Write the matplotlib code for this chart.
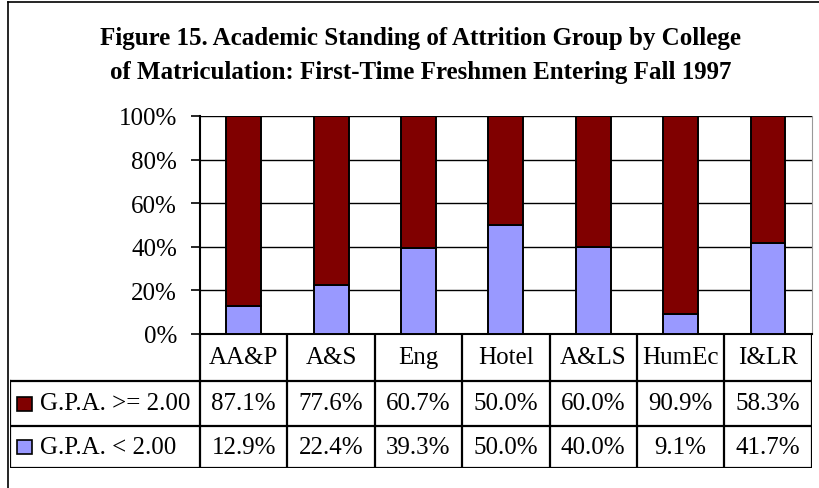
import numpy as np
import matplotlib
matplotlib.use('Agg')
import matplotlib.pyplot as plt
from matplotlib.patches import Rectangle
from matplotlib.lines import Line2D

colleges = ['AA&P', 'A&S', 'Eng', 'Hotel', 'A&LS', 'HumEc', 'I&LR']
gpa_hi = [87.1, 77.6, 60.7, 50.0, 60.0, 90.9, 58.3]
gpa_lo = [12.9, 22.4, 39.3, 50.0, 40.0, 9.1, 41.7]
series_names = ['G.P.A. >= 2.00', 'G.P.A. < 2.00']
yticks = [0, 20, 40, 60, 80, 100]

c_hi = '#800000'
c_lo = '#9999FF'
fs = 18

plt.rcParams['font.family'] = ['Liberation Serif', 'DejaVu Serif']

W, H = 819, 489
fig = plt.figure(figsize=(W / 100, H / 100), dpi=100)

# outer frame (only left and top visible in the original crop)
fig.add_artist(Line2D([8 / W, 8 / W], [0, 1 - 3 / H], color='black', lw=1.2))
fig.add_artist(Line2D([8 / W, 1], [1 - 3 / H, 1 - 3 / H], color='black', lw=1.2))

fig.text(421 / W, 1 - 38 / H,
         'Figure 15. Academic Standing of Attrition Group by College',
         ha='center', va='center', fontsize=18, fontweight='bold')
fig.text(421 / W, 1 - 72 / H,
         'of Matriculation: First-Time Freshmen Entering Fall 1997',
         ha='center', va='center', fontsize=18, fontweight='bold')

# main chart
x0, x1 = 200, 811.7
ytop, ybot = 117, 335
ax = fig.add_axes([x0 / W, 1 - ybot / H, (x1 - x0) / W, (ybot - ytop) / H])
x = np.arange(len(colleges))
ax.bar(x, gpa_lo, width=0.4, color=c_lo, edgecolor='black', lw=1.4, zorder=3)
ax.bar(x, gpa_hi, width=0.4, bottom=gpa_lo, color=c_hi, edgecolor='black',
       lw=1.4, zorder=3)
ax.set_xlim(-0.5, len(colleges) - 0.5)
ax.set_ylim(0, 100)
ax.set_yticks(yticks)
ax.set_yticklabels(['{}%'.format(v) for v in yticks], fontsize=fs)
ax.set_xticks([])
ax.grid(axis='y', color='black', lw=1)
ax.set_axisbelow(True)
ax.tick_params(axis='y', length=6.5, width=1.2, pad=10)
ax.spines['top'].set_visible(False)
ax.spines['right'].set_color('#999999')
ax.spines['left'].set_linewidth(1.5)
ax.spines['bottom'].set_linewidth(1.5)

# data table below
tx0 = 10
rows = [0, 47, 92, 134]
tax = fig.add_axes([tx0 / W, 1 - (ybot + rows[-1]) / H, (x1 - tx0) / W, rows[-1] / H])
colw = (x1 - x0) / len(colleges)
left = -0.5 - (x0 - tx0) / colw
tax.set_xlim(left, len(colleges) - 0.5)
tax.set_ylim(rows[-1], 0)
tax.axis('off')

lk = dict(color='black', lw=1.6, solid_capstyle='projecting')
for r in rows[1:]:
    tax.plot([left, len(colleges) - 0.5], [r, r], **lk)
tax.plot([left, left], [rows[1], rows[-1]], **lk)
for i in range(len(colleges) + 1):
    tax.plot([i - 0.5, i - 0.5], [0, rows[-1]], **lk)

for i, name in enumerate(colleges):
    tax.text(i, (rows[0] + rows[1]) / 2, name, ha='center', va='center', fontsize=fs)
    tax.text(i, (rows[1] + rows[2]) / 2, '{:.1f}%'.format(gpa_hi[i]),
             ha='center', va='center', fontsize=fs)
    tax.text(i, (rows[2] + rows[3]) / 2, '{:.1f}%'.format(gpa_lo[i]),
             ha='center', va='center', fontsize=fs)

for k, (name, col) in enumerate(zip(series_names, [c_hi, c_lo])):
    yc = (rows[k + 1] + rows[k + 2]) / 2
    tax.add_patch(Rectangle((left + 7 / colw, yc - 7), 15 / colw, 14,
                            facecolor=col, edgecolor='black', lw=1.2))
    tax.text(left + 30 / colw, yc, name, ha='left', va='center', fontsize=fs)

fig.savefig('out.png', dpi=100)
